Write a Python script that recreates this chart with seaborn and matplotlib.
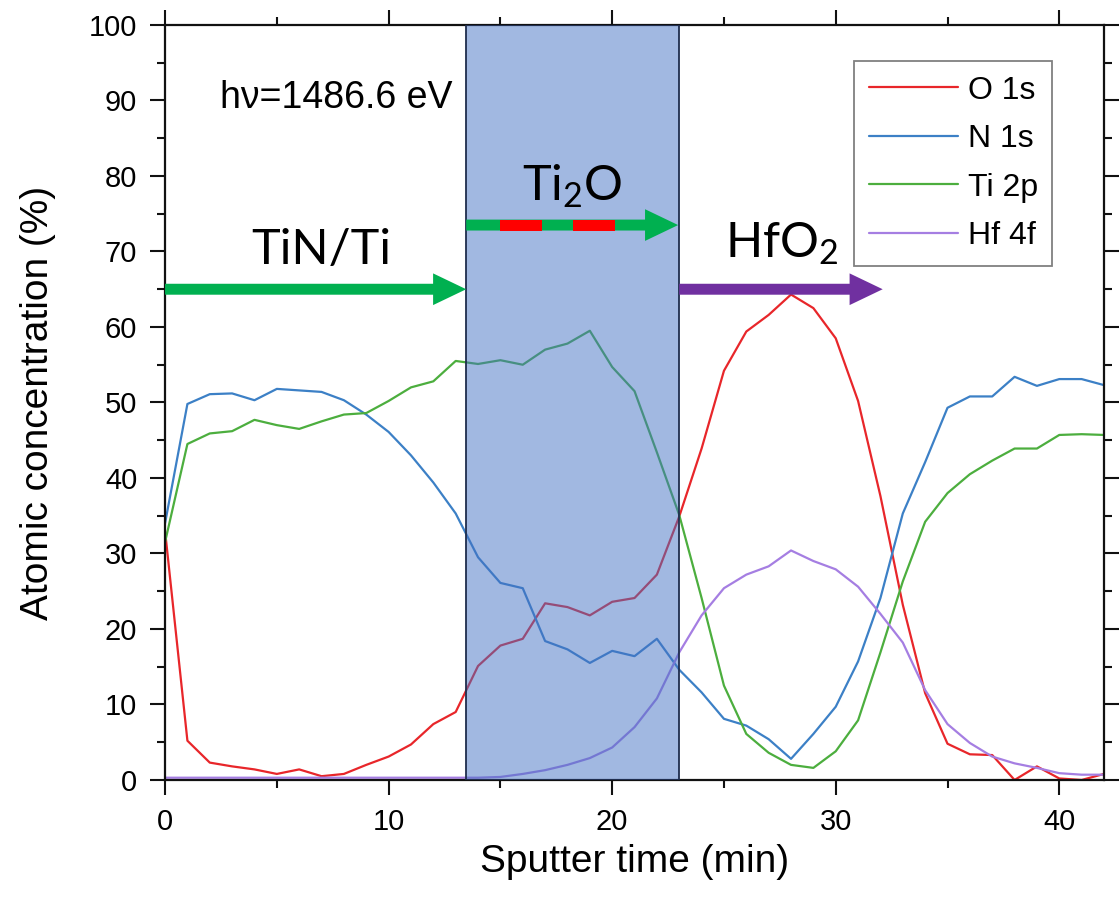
import pandas as pd
import matplotlib.pyplot as plt
import seaborn as sns

# sputter time (min) and atomic concentrations (%)
time_min = list(range(0, 43))

o_1s = [33.0, 5.2, 2.3, 1.8, 1.4, 0.8, 1.4, 0.5, 0.8, 2.0,
        3.1, 4.7, 7.4, 9.0, 15.1, 17.8, 18.7, 23.4, 22.9, 21.8,
        23.6, 24.1, 27.2, 34.9, 43.9, 54.2, 59.4, 61.6, 64.3, 62.5,
        58.5, 50.2, 37.6, 23.2, 11.5, 4.8, 3.4, 3.3, 0.0, 1.8,
        0.2, 0.0, 0.8]
n_1s = [34.0, 49.8, 51.1, 51.2, 50.3, 51.8, 51.6, 51.4, 50.3, 48.4,
        46.1, 43.0, 39.4, 35.3, 29.5, 26.1, 25.4, 18.4, 17.3, 15.5,
        17.1, 16.4, 18.7, 14.6, 11.6, 8.1, 7.2, 5.4, 2.8, 6.1,
        9.7, 15.7, 24.1, 35.3, 42.1, 49.3, 50.8, 50.8, 53.4, 52.2,
        53.1, 53.1, 52.3]
ti_2p = [31.5, 44.5, 45.9, 46.2, 47.7, 47.0, 46.5, 47.5, 48.4, 48.6,
         50.2, 52.0, 52.8, 55.5, 55.1, 55.6, 55.0, 57.0, 57.8, 59.5,
         54.7, 51.5, 43.4, 35.1, 24.1, 12.5, 6.1, 3.6, 2.0, 1.6,
         3.8, 7.9, 16.9, 26.3, 34.2, 38.0, 40.5, 42.3, 43.9, 43.9,
         45.7, 45.8, 45.7]
hf_4f = [0.3, 0.3, 0.3, 0.3, 0.3, 0.3, 0.3, 0.3, 0.3, 0.3,
         0.3, 0.3, 0.3, 0.3, 0.3, 0.4, 0.8, 1.3, 2.0, 2.9,
         4.3, 7.0, 10.8, 16.9, 21.8, 25.4, 27.2, 28.3, 30.4, 29.0,
         27.9, 25.6, 22.0, 18.2, 11.9, 7.4, 4.9, 3.1, 2.2, 1.6,
         0.9, 0.7, 0.7]

peaks = ["O 1s", "N 1s", "Ti 2p", "Hf 4f"]
colors = ["#e8262a", "#3c80c6", "#4cae3e", "#a57ee2"]

# layer regions / arrows (annotation positions)
ti2o_span = (13.47, 23.0)
layer_labels = ["TiN/Ti", r"$\mathregular{Ti_2O}$", r"$\mathregular{HfO_2}$"]

frames = []
for name, vals in zip(peaks, [o_1s, n_1s, ti_2p, hf_4f]):
    frames.append(pd.DataFrame({"t": time_min, "conc": vals, "peak": name}))
df = pd.concat(frames, ignore_index=True)

sns.set_style("ticks")
plt.rcParams["font.family"] = ["Liberation Sans", "DejaVu Sans"]
plt.rcParams["text.color"] = "black"
plt.rcParams["axes.labelcolor"] = "black"
plt.rcParams["xtick.color"] = "black"
plt.rcParams["ytick.color"] = "black"

fig = plt.figure(figsize=(11.19, 8.99), dpi=100)
ax = fig.add_axes([0.1475, 0.1324, 0.8391, 0.8398])

sns.lineplot(data=df, x="t", y="conc", hue="peak", palette=dict(zip(peaks, colors)),
             linewidth=1.6, ax=ax, zorder=2)

# shaded Ti2O region, drawn over the curves
ax.axvspan(ti2o_span[0], ti2o_span[1], facecolor=(0.267, 0.447, 0.769, 0.5),
           edgecolor="#1f2d4d", linewidth=1.3, zorder=3)

# arrows
aw = dict(width=1.45, head_width=4.2, head_length=1.48, length_includes_head=True,
          linewidth=0, zorder=4)
ax.arrow(0, 65.0, 13.47, 0, color="#00b050", **aw)
ax.arrow(23.0, 65.0, 32.1 - 23.0, 0, color="#7030a0", **aw)
ax.arrow(13.47, 73.5, 22.95 - 13.47, 0, color="#00b050", **aw)
for x0, x1 in [(14.99, 16.87), (18.26, 20.13)]:
    ax.add_patch(plt.Rectangle((x0, 73.5 - 0.725), x1 - x0, 1.45,
                               facecolor="#ff0000", linewidth=0, zorder=4.5))

# labels
ax.text(2.45, 89.0, "hν=1486.6 eV", fontsize=27, ha="left", va="baseline", zorder=5)
ax.text(7.0, 68.4, layer_labels[0], fontsize=35, family=["Lato", "DejaVu Sans"],
        ha="center", va="baseline", zorder=5)
ax.text(18.2, 76.7, layer_labels[1], fontsize=35, family=["Lato", "DejaVu Sans"],
        ha="center", va="baseline", zorder=5)
ax.text(27.6, 69.2, layer_labels[2], fontsize=35, family=["Lato", "DejaVu Sans"],
        ha="center", va="baseline", zorder=5)

ax.set_xlim(0, 42)
ax.set_ylim(0, 100)
ax.set_xticks([0, 10, 20, 30, 40])
ax.set_xticks([5, 15, 25, 35], minor=True)
ax.set_yticks(range(0, 101, 10))
ax.set_yticks(range(5, 100, 10), minor=True)
ax.tick_params(which="both", direction="out", top=True, right=True,
               labeltop=False, labelright=False, width=1.5, color="#111111")
ax.tick_params(which="major", length=11, labelsize=21, pad=9)
ax.tick_params(which="minor", length=6)
for s in ax.spines.values():
    s.set_linewidth(1.6)
    s.set_color("#111111")
    s.set_visible(True)

ax.set_xlabel("Sputter time (min)", fontsize=28, labelpad=6)
ax.set_ylabel("Atomic concentration (%)", fontsize=28, labelpad=24)

leg = ax.legend(loc="upper right", bbox_to_anchor=(0.945, 0.952), fontsize=23,
                frameon=True, fancybox=False, framealpha=1, edgecolor="#808080",
                handlelength=2.8, handletextpad=0.3, labelspacing=0.58,
                borderpad=0.45, borderaxespad=0)
leg.get_frame().set_linewidth(1.3)
leg.set_zorder(6)
for line in leg.get_lines():
    line.set_linewidth(1.6)

fig.savefig("out.png", dpi=100)
